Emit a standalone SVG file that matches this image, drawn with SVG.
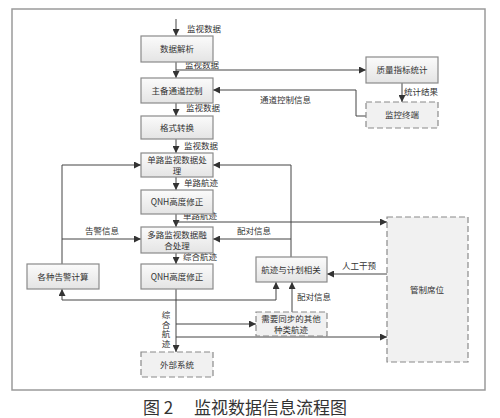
<svg xmlns="http://www.w3.org/2000/svg" width="500" height="418" viewBox="0 0 500 418">
<defs>
<linearGradient id="g" x1="0" y1="0" x2="0" y2="1">
<stop offset="0" stop-color="#fbfbfb"/>
<stop offset="1" stop-color="#e4e4e4"/>
</linearGradient>
<marker id="ar" viewBox="0 0 10 10" refX="10" refY="5" markerWidth="7" markerHeight="7" markerUnits="userSpaceOnUse" orient="auto">
<path d="M0,0 L10,5 L0,10 z" fill="#333"/>
</marker>
</defs>
<style>
.box{fill:url(#g);stroke:#8a8a8a;stroke-width:1.2}
.dbox{fill:#f1f1f1;stroke:#8a8a8a;stroke-width:1.2;stroke-dasharray:6,3}
.t{font-family:"Noto Sans CJK SC","Liberation Sans",sans-serif;font-size:8.5px;fill:#333}
.c{text-anchor:middle}
.ln{fill:none;stroke:#444;stroke-width:1}
.ar{marker-end:url(#ar)}
.frame{fill:none;stroke:#9a9a9a;stroke-width:1.5}
.cap{font-family:"Noto Sans CJK SC",sans-serif;font-size:17px;fill:#333}
</style>
<rect width="500" height="418" fill="#fff"/>
<path class="frame" d="M12,9 H485 V390 H12 Z"/>

<g id="connectors">
<path class="ln ar" d="M176,19 V36"/>
<path class="ln ar" d="M176,62 V78"/>
<path class="ln ar" d="M176,70 H366"/>
<path class="ln ar" d="M366,116 H356 V90 H213"/>
<path class="ln ar" d="M402,83 V102"/>
<path class="ln ar" d="M176,103 V116"/>
<path class="ln ar" d="M176,139 V153"/>
<path class="ln ar" d="M176,177 V190"/>
<path class="ln ar" d="M176,214 V227"/>
<path class="ln ar" d="M176,222 H387"/>
<path class="ln ar" d="M176,253 V264"/>
<path class="ln ar" d="M176,289 V352"/>
<path class="ln ar" d="M176,324 H256"/>
<path class="ln ar" d="M176,337 H387"/>
<path class="ln ar" d="M176,300 H62 V289"/>
<path class="ln ar" d="M176,300 H276 V282"/>
<path class="ln ar" d="M292,312 V282"/>
<path class="ln ar" d="M387,274 H327"/>
<path class="ln ar" d="M291,257 V165 H213"/>
<path class="ln ar" d="M291,239 H213"/>
<path class="ln ar" d="M62,264 V165 H141"/>
<path class="ln ar" d="M62,239 H141"/>
</g>

<g id="edge-labels">
<text class="t" x="187" y="32">监视数据</text>
<text class="t" x="185" y="68">监视数据</text>
<text class="t" x="260" y="103">通道控制信息</text>
<text class="t" x="186" y="111">监视数据</text>
<text class="t" x="404" y="95">统计结果</text>
<text class="t" x="184" y="149">监视数据</text>
<text class="t" x="184" y="186">单路航迹</text>
<text class="t" x="183" y="219">单路航迹</text>
<text class="t" x="85" y="234">告警信息</text>
<text class="t" x="237" y="234">配对信息</text>
<text class="t" x="183" y="260">综合航迹</text>
<text class="t" x="297" y="300">配对信息</text>
<text class="t" x="342" y="269">人工干预</text>
<text class="t" x="166" y="311" writing-mode="vertical-rl" letter-spacing="1">综合航迹</text>
</g>

<g id="n-parse"><rect class="box" x="141" y="36" width="72" height="26"/><text class="t c" x="177" y="52">数据解析</text></g>
<g id="n-channel"><rect class="box" x="141" y="78" width="72" height="25"/><text class="t c" x="177" y="94">主备通道控制</text></g>
<g id="n-format"><rect class="box" x="141" y="116" width="72" height="23"/><text class="t c" x="177" y="131">格式转换</text></g>
<g id="n-single"><rect class="box" x="141" y="153" width="72" height="24"/><text class="t c" x="177" y="163">单路监视数据处</text><text class="t c" x="177" y="174">理</text></g>
<g id="n-qnh1"><rect class="box" x="141" y="190" width="72" height="24"/><text class="t c" x="177" y="205">QNH高度修正</text></g>
<g id="n-multi"><rect class="box" x="141" y="227" width="72" height="26"/><text class="t c" x="177" y="238">多路监视数据融</text><text class="t c" x="177" y="249">合处理</text></g>
<g id="n-qnh2"><rect class="box" x="141" y="264" width="72" height="25"/><text class="t c" x="177" y="280">QNH高度修正</text></g>
<g id="n-alarm"><rect class="box" x="27" y="264" width="72" height="25"/><text class="t c" x="63" y="280">各种告警计算</text></g>
<g id="n-external"><rect class="dbox" x="141" y="352" width="72" height="25"/><text class="t c" x="177" y="368">外部系统</text></g>
<g id="n-quality"><rect class="box" x="366" y="57" width="72" height="26"/><text class="t c" x="402" y="73">质量指标统计</text></g>
<g id="n-monitor"><rect class="dbox" x="366" y="102" width="72" height="26"/><text class="t c" x="402" y="118">监控终端</text></g>
<g id="n-correlate"><rect class="box" x="256" y="257" width="71" height="25"/><text class="t c" x="291" y="273">航迹与计划相关</text></g>
<g id="n-other"><rect class="dbox" x="256" y="312" width="71" height="24"/><text class="t c" x="291" y="322">需要同步的其他</text><text class="t c" x="291" y="333">种类航迹</text></g>
<g id="n-control"><rect class="dbox" x="387" y="217" width="81" height="145"/><text class="t c" x="427" y="293">管制席位</text></g>

<text class="cap" x="143" y="414">图 2</text>
<text class="cap" x="194" y="414">监视数据信息流程图</text>
</svg>
